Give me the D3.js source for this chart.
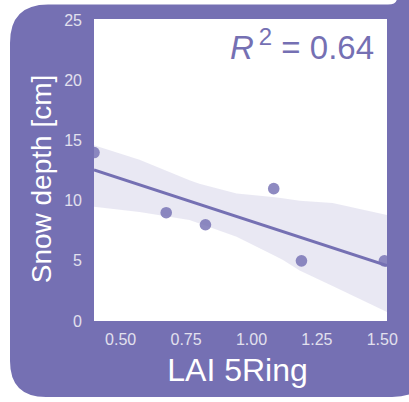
<!DOCTYPE html>
<html>
<head>
<meta charset="utf-8">
<script src="https://cdn.jsdelivr.net/npm/d3@7"></script>
<style>
  html, body { margin: 0; padding: 0; background: #ffffff; }
  svg { display: block; }
  text { font-family: "Liberation Sans", Arial, sans-serif; }
</style>
</head>
<body>
<svg id="chart" width="409" height="402"></svg>
<script>
// LAI (5 ring) against snow depth
const laiValues = [0.40, 0.676, 0.826, 1.087, 1.193, 1.51];
const snowDepth = [14, 9, 8, 11, 5, 5];

// bootstrapped 95% confidence band of the fit
const bandLai   = [0.40, 0.574, 0.765, 0.803, 0.945, 1.083, 1.121, 1.186, 1.312, 1.52];
const bandUpper = [14.6, 13.4, 11.7, 11.4, 10.6, 10.3, 10.2, 10.0, 9.8, 8.8];
const bandLower = [9.5, 9.05, 8.4, 8.1, 7.0, 5.5, 5.1, 4.2, 2.9, 0.75];

const xTicks = [0.5, 0.75, 1.0, 1.25, 1.5];
const yTicks = [0, 5, 10, 15, 20, 25];
const r2Label = "0.64";

const purple = "#7570b3";
const svg = d3.select("#chart");

// panel background
const panel = d3.path();
panel.moveTo(10, 43);
panel.quadraticCurveTo(10, 4.5, 48, 4.5);
panel.lineTo(388, 4.5);
panel.quadraticCurveTo(397, 4.5, 397, -2);
panel.lineTo(430, -2);
panel.lineTo(430, 360);
panel.quadraticCurveTo(430, 397, 392, 397);
panel.lineTo(46, 397);
panel.quadraticCurveTo(10, 397, 10, 361);
panel.closePath();
svg.append("path").attr("d", panel.toString()).attr("fill", purple);

const plotLeft = 94, plotRight = 387, plotTop = 19, plotBottom = 321;

const x = d3.scaleLinear().domain([0.40, 1.52]).range([plotLeft, plotRight]);
const y = d3.scaleLinear().domain([0, 25.1]).range([plotBottom, plotTop]);

svg.append("rect")
  .attr("x", plotLeft).attr("y", plotTop)
  .attr("width", plotRight - plotLeft).attr("height", plotBottom - plotTop)
  .attr("fill", "#ffffff");

svg.append("clipPath").attr("id", "plotClip")
  .append("rect")
  .attr("x", plotLeft).attr("y", plotTop)
  .attr("width", plotRight - plotLeft).attr("height", plotBottom - plotTop);

const plot = svg.append("g").attr("clip-path", "url(#plotClip)");

// confidence band
const band = d3.area()
  .x((d, i) => x(bandLai[i]))
  .y0((d, i) => y(bandLower[i]))
  .y1((d, i) => y(bandUpper[i]));
plot.append("path")
  .attr("d", band(bandLai))
  .attr("fill", purple)
  .attr("fill-opacity", 0.16);

// least-squares fit
const mx = d3.mean(laiValues), my = d3.mean(snowDepth);
const sxy = d3.sum(laiValues, (v, i) => (v - mx) * (snowDepth[i] - my));
const sxx = d3.sum(laiValues, v => (v - mx) * (v - mx));
const slope = sxy / sxx, intercept = my - slope * mx;
const fitX = x.domain();
plot.append("line")
  .attr("x1", x(fitX[0])).attr("y1", y(intercept + slope * fitX[0]))
  .attr("x2", x(fitX[1])).attr("y2", y(intercept + slope * fitX[1]))
  .attr("stroke", purple).attr("stroke-width", 3);

// observations
plot.selectAll("circle.obs")
  .data(laiValues)
  .join("circle")
  .attr("class", "obs")
  .attr("cx", d => x(d))
  .attr("cy", (d, i) => y(snowDepth[i]))
  .attr("r", 5.8)
  .attr("fill", purple)
  .attr("fill-opacity", 0.82);

// axes
const tickColor = "#e2e0ee";
const xAxis = svg.append("g")
  .attr("transform", `translate(0,${plotBottom})`)
  .call(d3.axisBottom(x).tickValues(xTicks).tickFormat(d3.format(".2f")).tickSize(0).tickPadding(13));
const yAxis = svg.append("g")
  .attr("transform", `translate(${plotLeft},0)`)
  .call(d3.axisLeft(y).tickValues(yTicks).tickFormat(d3.format("d")).tickSize(0).tickPadding(12));
[xAxis, yAxis].forEach(g => {
  g.select(".domain").remove();
  g.selectAll("text")
    .attr("fill", tickColor)
    .style("font-size", "16px")
    .style("font-family", "'Liberation Sans', Arial, sans-serif");
});

// axis titles
svg.append("text")
  .attr("x", (plotLeft + plotRight) / 2 - 3)
  .attr("y", 381)
  .attr("text-anchor", "middle")
  .attr("fill", "#ffffff")
  .style("font-size", "32px")
  .text("LAI 5Ring");

svg.append("text")
  .attr("transform", `translate(51,${(plotTop + plotBottom) / 2 + 9}) rotate(-90)`)
  .attr("text-anchor", "middle")
  .attr("fill", "#ffffff")
  .style("font-size", "28px")
  .text("Snow depth [cm]");

// coefficient of determination
const r2 = svg.append("text")
  .attr("x", 230).attr("y", 59)
  .attr("fill", purple)
  .style("font-size", "33px");
r2.append("tspan").style("font-style", "italic").text("R");
r2.append("tspan").attr("dx", 5).attr("dy", -14).style("font-size", "24px").text("2");
r2.append("tspan").attr("dy", 14).text(" = " + r2Label);
</script>
</body>
</html>
